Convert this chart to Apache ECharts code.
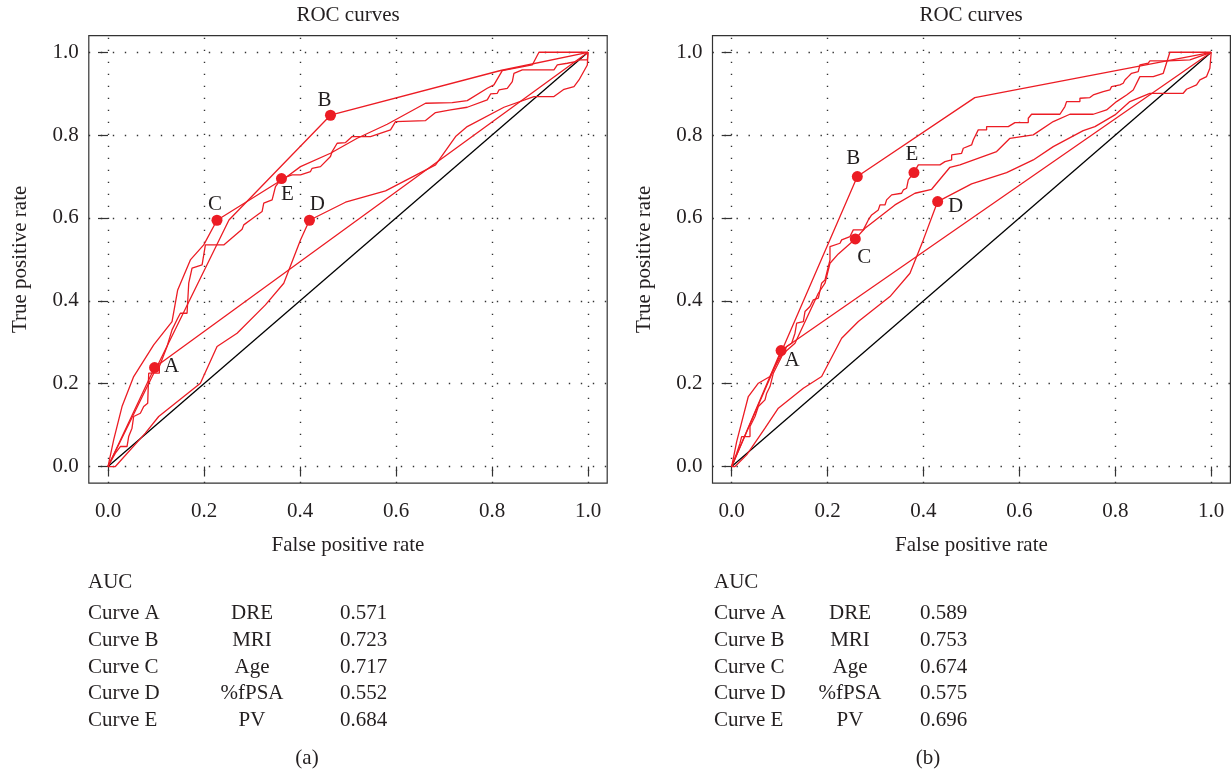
<!DOCTYPE html>
<html>
<head>
<meta charset="utf-8">
<script src="https://cdn.jsdelivr.net/npm/echarts@6/dist/echarts.min.js"></script>
<style>
  html, body { margin: 0; padding: 0; background: #fff; }
  #main { width: 1231px; height: 773px; }
</style>
</head>
<body>
<div id="main"></div>
<script>
// axis ticks
const tickValues = [0, 0.2, 0.4, 0.6, 0.8, 1];

// AUC table
const curveNames = ['Curve A', 'Curve B', 'Curve C', 'Curve D', 'Curve E'];
const predictors = ['DRE', 'MRI', 'Age', '%fPSA', 'PV'];
const aucPanelA = ['0.571', '0.723', '0.717', '0.552', '0.684'];
const aucPanelB = ['0.589', '0.753', '0.674', '0.575', '0.696'];

// cut-off points marked on each curve
const pointLetters = ['A', 'B', 'C', 'D', 'E'];
const cutoffsA = [[0.097, 0.239], [0.4635, 0.848], [0.227, 0.5945], [0.4197, 0.5945], [0.3614, 0.6951]];
const cutoffsB = [[0.103, 0.28], [0.262, 0.70], [0.2578, 0.5495], [0.4295, 0.6396], [0.3801, 0.7096]];

const chanceLine = [[0, 0], [1, 1]];

// panel (a) curves
const rocA_dre = [[0, 0], [0.097, 0.239], [1, 1]];
const rocA_mri = [[0, 0], [0.252, 0.595], [0.4635, 0.848], [0.818, 0.956], [1, 1]];
const rocA_age = [[0, 0], [0.0118, 0.0644], [0.0292, 0.1448], [0.0535, 0.2172], [0.0952, 0.2936],
  [0.1334, 0.35], [0.1452, 0.4264], [0.1716, 0.4988], [0.1994, 0.535], [0.227, 0.5945],
  [0.3732, 0.70], [0.401, 0.724], [0.4635, 0.7562], [0.5191, 0.7924], [0.5817, 0.8262],
  [0.6616, 0.8769], [0.7172, 0.8785], [0.7484, 0.8833], [0.7901, 0.9131], [0.804, 0.9212],
  [0.8214, 0.9558], [0.8839, 0.9694], [0.8978, 1], [1, 1]];
const rocA_fpsa = [[0, 0], [0.0153, 0], [0.0778, 0.0805], [0.1056, 0.1207], [0.1925, 0.2011],
  [0.2272, 0.2896], [0.2689, 0.3218], [0.328, 0.3902], [0.3662, 0.4425], [0.401, 0.547],
  [0.4197, 0.5945], [0.4948, 0.638], [0.5782, 0.6653], [0.6824, 0.7281], [0.7241, 0.7965],
  [0.7484, 0.8206], [0.8249, 0.8673], [0.8874, 0.893], [0.9291, 0.893], [0.95, 0.9107],
  [0.9708, 0.9171], [0.9812, 0.9332], [0.9986, 0.9694], [1, 1]];
const rocA_pv = [[0, 0], [0.0153, 0.0322], [0.0257, 0.0483], [0.0396, 0.0483], [0.0431, 0.0724],
  [0.05, 0.0925], [0.0535, 0.1207], [0.0674, 0.1287], [0.0744, 0.1448], [0.0827, 0.1529],
  [0.0848, 0.2253], [0.107, 0.2253], [0.107, 0.2414], [0.123, 0.2896], [0.1334, 0.3298],
  [0.1452, 0.358], [0.1508, 0.37], [0.1647, 0.37], [0.1682, 0.4425], [0.1751, 0.4787],
  [0.196, 0.4867], [0.2029, 0.535], [0.2411, 0.535], [0.2794, 0.5728], [0.2828, 0.5833],
  [0.2967, 0.5953], [0.321, 0.6154], [0.3245, 0.6356], [0.3419, 0.6436], [0.3489, 0.6758],
  [0.3614, 0.6951], [0.3836, 0.704], [0.401, 0.704], [0.4218, 0.712], [0.4253, 0.72],
  [0.4427, 0.724], [0.4635, 0.7482], [0.467, 0.7603], [0.4774, 0.7804], [0.4948, 0.782],
  [0.5087, 0.7965], [0.5469, 0.7965], [0.5886, 0.8126], [0.599, 0.8327], [0.6616, 0.8351],
  [0.672, 0.8447], [0.6824, 0.8544], [0.7137, 0.8608], [0.7484, 0.8673], [0.7901, 0.885],
  [0.7971, 0.8994], [0.811, 0.901], [0.8145, 0.9091], [0.8318, 0.9131], [0.8423, 0.9292],
  [0.8457, 0.9493], [0.8631, 0.9574], [0.9291, 0.9574], [0.9361, 0.9694], [0.9569, 0.9735],
  [0.9743, 0.9775], [0.9812, 0.9815], [0.9986, 0.9815], [1, 1]];

// panel (b) curves
const rocB_dre = [[0, 0], [0.103, 0.28], [1, 1]];
const rocB_mri = [[0, 0], [0.262, 0.70], [0.507, 0.8906], [1, 1]];
const rocB_age = [[0, 0], [0.0104, 0.0603], [0.0347, 0.169], [0.0556, 0.2011], [0.0799, 0.2172],
  [0.0903, 0.2414], [0.1042, 0.2695], [0.132, 0.2977], [0.1807, 0.4183], [0.1946, 0.4425],
  [0.205, 0.4907], [0.2224, 0.5133], [0.2578, 0.5495], [0.278, 0.5752], [0.3405, 0.6315],
  [0.3822, 0.6597], [0.417, 0.6693], [0.4552, 0.7224], [0.476, 0.7281], [0.5525, 0.7603],
  [0.5803, 0.7924], [0.6289, 0.8005], [0.6706, 0.8327], [0.7053, 0.8504], [0.754, 0.8504],
  [0.7818, 0.8608], [0.8026, 0.8809], [0.8235, 0.897], [0.8374, 0.9091], [0.8513, 0.9413],
  [0.8791, 0.9413], [0.9, 0.9493], [0.9138, 1], [1, 1]];
const rocB_fpsa = [[0, 0], [0.0069, 0], [0.0313, 0.0282], [0.0695, 0.0925], [0.0973, 0.1408],
  [0.1494, 0.1891], [0.1876, 0.2172], [0.2293, 0.3097], [0.2641, 0.35], [0.3301, 0.4103],
  [0.3718, 0.4666], [0.3996, 0.5471], [0.4295, 0.6396], [0.5003, 0.6822], [0.5733, 0.7096],
  [0.6289, 0.7401], [0.6706, 0.7723], [0.7331, 0.8109], [0.7575, 0.8206], [0.7992, 0.8488],
  [0.8304, 0.8809], [0.8721, 0.901], [0.9416, 0.901], [0.9486, 0.9107], [0.9694, 0.9212],
  [0.9764, 0.9332], [0.9903, 0.9413], [0.9972, 0.9614], [1, 1]];
const rocB_pv = [[0, 0], [0.0104, 0.0322], [0.0174, 0.0563], [0.0208, 0.0724], [0.0382, 0.0724],
  [0.0382, 0.0965], [0.0486, 0.1207], [0.0556, 0.1448], [0.0695, 0.1609], [0.073, 0.177],
  [0.0799, 0.1931], [0.0869, 0.2253], [0.1077, 0.2735], [0.1147, 0.2896], [0.1251, 0.2977],
  [0.132, 0.3218], [0.1355, 0.3459], [0.1494, 0.35], [0.1529, 0.3741], [0.1633, 0.3862],
  [0.1703, 0.4023], [0.1807, 0.4063], [0.1876, 0.4425], [0.1946, 0.4505], [0.205, 0.4988],
  [0.205, 0.531], [0.2259, 0.539], [0.2293, 0.5471], [0.2467, 0.5551], [0.2536, 0.5712],
  [0.2745, 0.5712], [0.2849, 0.5953], [0.2919, 0.6074], [0.3058, 0.6195], [0.3092, 0.6315],
  [0.3197, 0.6315], [0.3231, 0.6436], [0.3336, 0.6557], [0.3544, 0.6597], [0.3579, 0.6677],
  [0.3648, 0.6718], [0.3683, 0.6919], [0.3801, 0.7096], [0.3892, 0.7281], [0.4343, 0.7281],
  [0.4448, 0.7361], [0.4587, 0.7401], [0.4587, 0.7522], [0.4795, 0.7562], [0.483, 0.7683],
  [0.5003, 0.7763], [0.5038, 0.7884], [0.5142, 0.8126], [0.5316, 0.8126], [0.5316, 0.8206],
  [0.5768, 0.8206], [0.5907, 0.8303], [0.6185, 0.8303], [0.6185, 0.8407], [0.6254, 0.8504],
  [0.6845, 0.8504], [0.6949, 0.8689], [0.6984, 0.8809], [0.7262, 0.8809], [0.7262, 0.889],
  [0.747, 0.8906], [0.754, 0.897], [0.7748, 0.9051], [0.7887, 0.9091], [0.7922, 0.9171],
  [0.8096, 0.9212], [0.8165, 0.9252], [0.82, 0.9332], [0.827, 0.9413], [0.8339, 0.9493],
  [0.8478, 0.9533], [0.8513, 0.9694], [0.8687, 0.9735], [0.8721, 0.9791], [0.9104, 0.9791],
  [0.9555, 0.9815], [1, 1]];

const FONT = '"Liberation Serif", "Times New Roman", serif';
const INK = '#231f20';
const RED = '#ec1c24';
const FS = 21;

// label offsets (px) of the letters relative to their dots
const letterOffsetsA = [[17, -1], [-6, -15], [-2, -16], [8, -16], [6, 16]];
const letterOffsetsB = [[11, 10], [-4, -18], [9, 19], [18, 5], [-2, -18]];

const chart = echarts.init(document.getElementById('main'));

function makeAxes(gi) {
  const common = {
    type: 'value',
    gridIndex: gi,
    min: -0.04,
    max: 1.04,
    axisLine: { show: false },
    splitLine: { show: false },
    axisTick: {
      show: true, inside: false, length: 10,
      customValues: tickValues,
      lineStyle: { color: '#333', width: 1.2 }
    },
    nameLocation: 'middle',
    nameTextStyle: { fontFamily: FONT, fontSize: FS, color: INK }
  };
  const x = Object.assign({}, common, {
    name: 'False positive rate',
    nameGap: 52,
    axisLabel: {
      customValues: tickValues, margin: 18,
      fontFamily: FONT, fontSize: FS, color: INK,
      formatter: v => v.toFixed(1)
    }
  });
  const y = Object.assign({}, common, {
    name: 'True positive rate',
    nameGap: 58,
    axisLabel: {
      customValues: tickValues, margin: 10,
      fontFamily: FONT, fontSize: FS, color: INK,
      formatter: v => v.toFixed(1)
    }
  });
  return { x, y };
}

function redLine(data, gi) {
  return {
    type: 'line', xAxisIndex: gi, yAxisIndex: gi,
    data, showSymbol: false, symbol: 'none',
    lineStyle: { color: RED, width: 1.3 },
    z: 3, silent: true
  };
}

function panelSeries(gi, curves, cutoffs, offsets) {
  const gridMarks = tickValues.map(v => ({ xAxis: v }))
    .concat(tickValues.map(v => ({ yAxis: v })));
  const list = [{
    type: 'line', xAxisIndex: gi, yAxisIndex: gi,
    data: chanceLine, showSymbol: false, symbol: 'none',
    lineStyle: { color: '#000', width: 1.3 },
    z: 2, silent: true,
    markLine: {
      silent: true, symbol: 'none', label: { show: false },
      lineStyle: { color: '#333', width: 1.4, type: [1.4, 10.6] },
      data: gridMarks, z: 1
    }
  }];
  curves.forEach(c => list.push(redLine(c, gi)));
  list.push({
    type: 'scatter', xAxisIndex: gi, yAxisIndex: gi,
    symbolSize: 11, z: 5, silent: true,
    itemStyle: { color: RED, opacity: 1 },
    data: cutoffs.map((p, i) => ({
      value: p,
      name: pointLetters[i],
      label: { offset: offsets[i] }
    })),
    label: {
      show: true, position: 'inside',
      formatter: '{b}', opacity: 1,
      textBorderWidth: 0,
      fontFamily: FONT, fontSize: FS, color: INK
    }
  });
  return list;
}

function tableTexts(colLeft, colMid, colNum, aucs, tag, tagX) {
  const t = [];
  const style = (text, x, y, align) => ({
    type: 'text', x, y,
    style: { text, fontFamily: FONT, fontSize: FS, fill: INK, align, verticalAlign: 'middle' }
  });
  t.push(style('AUC', colLeft, 582, 'left'));
  const rows = [613, 640, 667, 693.5, 720];
  curveNames.forEach((n, i) => {
    t.push(style(n, colLeft, rows[i], 'left'));
    t.push(style(predictors[i], colMid, rows[i], 'center'));
    t.push(style(aucs[i], colNum, rows[i], 'left'));
  });
  t.push(style(tag, tagX, 758, 'center'));
  return t;
}

const axA = makeAxes(0);
const axB = makeAxes(1);

const option = {
  animation: false,
  backgroundColor: '#fff',
  grid: [
    { left: 88.8, top: 35.7, width: 518.4, height: 447.4, show: true, borderColor: '#333', borderWidth: 1.2, backgroundColor: 'transparent' },
    { left: 712.5, top: 35.7, width: 517.9, height: 447.4, show: true, borderColor: '#333', borderWidth: 1.2, backgroundColor: 'transparent' }
  ],
  xAxis: [axA.x, axB.x],
  yAxis: [axA.y, axB.y],
  graphic: [
    { type: 'text', x: 348, y: 15, style: { text: 'ROC curves', fontFamily: FONT, fontSize: FS, fill: INK, align: 'center', verticalAlign: 'middle' } },
    { type: 'text', x: 971, y: 15, style: { text: 'ROC curves', fontFamily: FONT, fontSize: FS, fill: INK, align: 'center', verticalAlign: 'middle' } }
  ].concat(
    tableTexts(88, 252, 340, aucPanelA, '(a)', 307),
    tableTexts(714, 850, 920, aucPanelB, '(b)', 928)
  ),
  series: [].concat(
    panelSeries(0, [rocA_dre, rocA_mri, rocA_age, rocA_fpsa, rocA_pv], cutoffsA, letterOffsetsA),
    panelSeries(1, [rocB_dre, rocB_mri, rocB_age, rocB_fpsa, rocB_pv], cutoffsB, letterOffsetsB)
  )
};

chart.setOption(option);
</script>
</body>
</html>
